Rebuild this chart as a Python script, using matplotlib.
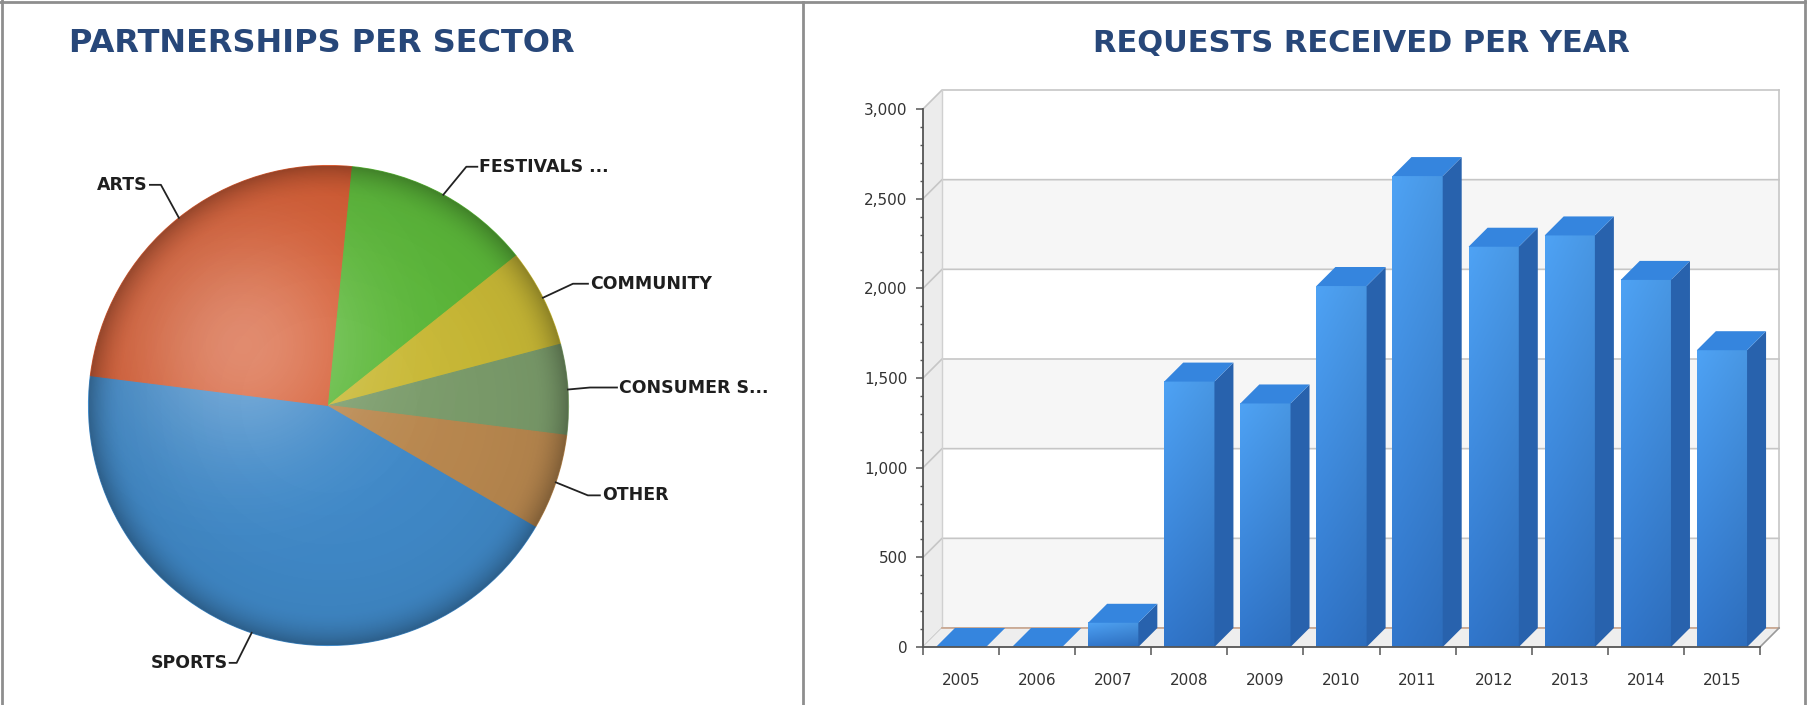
import numpy as np
import matplotlib
matplotlib.use('Agg')
import matplotlib.pyplot as plt
from matplotlib.patches import Polygon, Circle
from matplotlib.lines import Line2D
from matplotlib.colors import to_rgb

# ---- data ----
sectors = ['SPORTS', 'ARTS', 'FESTIVALS ...', 'COMMUNITY', 'CONSUMER S...', 'OTHER']
sector_share = [43.6, 24.6, 12.7, 6.6, 6.1, 6.4]
sector_colors = ['#4089c8', '#d65c33', '#5cb83a', '#c9b936', '#7b9c6b', '#b9884f']

years = ['2005', '2006', '2007', '2008', '2009', '2010',
         '2011', '2012', '2013', '2014', '2015']
requests = [0, 0, 135, 1480, 1358, 2013, 2626, 2232, 2295, 2047, 1655]

# leader layout: elbow offset (px, up positive) and horizontal run (px)
leaders = [(-15, -30, -7), (-18, 33, -11), (23, 28, 11),
           (30, 14, 15), (22, 2, 27), (32, -13, 12)]

W, H = 1808, 705
fig = plt.figure(figsize=(W / 100, H / 100), dpi=100)


def px_axes(left, top, right, bottom):
    return fig.add_axes([left / W, 1 - bottom / H, (right - left) / W, (bottom - top) / H])


title_color = '#274779'
fig.text(69 / W, 1 - 43 / H, 'PARTNERSHIPS PER SECTOR', fontsize=23,
         fontweight='heavy', color=title_color, ha='left', va='center')
fig.text(1361 / W, 1 - 43 / H, 'REQUESTS RECEIVED PER YEAR', fontsize=22,
         fontweight='heavy', color=title_color, ha='center', va='center')

# panel borders
for xs, ys in [([0, W], [2, 2]), ([2, 2], [0, H]), ([W - 3, W - 3], [0, H]),
               ([803, 803], [2, H])]:
    fig.add_artist(Line2D([x / W for x in xs], [1 - y / H for y in ys],
                          transform=fig.transFigure, color='#8e8e8e', lw=2))

# ---- pie ----
R_PX = 240
ax1 = px_axes(328.5 - R_PX, 405.5 - R_PX, 328.5 + R_PX, 405.5 + R_PX)
wedges, _ = ax1.pie(sector_share, colors=sector_colors, startangle=-30.2,
                    counterclock=False, radius=1)
for w in wedges:
    w.set_edgecolor(w.get_facecolor())
    w.set_linewidth(0.8)

n = 500
g = np.linspace(-1, 1, n)
X, Y = np.meshgrid(g, g)
R = np.hypot(X, Y)
clip = Circle((0, 0), 1, transform=ax1.transData)
light = np.ones((n, n, 4))
light[..., 3] = 0.3 * np.exp(-((X + 0.36) ** 2 + (Y - 0.25) ** 2) / (2 * 0.34 ** 2))
dark = np.zeros((n, n, 4))
dark[..., 3] = 0.22 * np.clip((R - 0.86) / 0.14, 0, 1) ** 2 + 0.08 * np.clip(R, 0, 1) ** 3
for img in (light, dark):
    im = ax1.imshow(img, extent=(-1, 1, -1, 1), origin='lower', zorder=3,
                    interpolation='bilinear')
    im.set_clip_path(clip)

for w, name, (ex, ey, hr) in zip(wedges, sectors, leaders):
    a = np.deg2rad((w.theta1 + w.theta2) / 2)
    x0, y0 = np.cos(a), np.sin(a)
    x1, y1 = x0 + ex / R_PX, y0 + ey / R_PX
    x2 = x1 + hr / R_PX
    ax1.plot([x0, x1, x2], [y0, y1, y1], color='#222222', lw=1.3,
             clip_on=False, zorder=4)
    side = 1 if hr > 0 else -1
    ax1.text(x2 + side * 2 / R_PX, y1, name, ha='left' if side > 0 else 'right',
             va='center', fontsize=12.5, fontweight='bold', color='#1e1e1e',
             clip_on=False)
ax1.set_xlim(-1, 1)
ax1.set_ylim(-1, 1)
ax1.axis('off')

# ---- 3d-ish bars ----
left, top, right, bottom = 923, 109, 1760, 647
ax2 = px_axes(left, top, right, bottom)
ncat = len(years)
ymax = 3000
dx = 19 * ncat / (right - left)
dy = 19 * ymax / (bottom - top)
x_lo, x_hi = -0.5, ncat - 0.5

# left side wall
ax2.add_patch(Polygon([(x_lo, 0), (x_lo + dx, dy), (x_lo + dx, ymax + dy), (x_lo, ymax)],
                      closed=True, fc='#ececec', ec='none', clip_on=False, zorder=0))
# back wall bands
for i, v in enumerate(range(0, ymax, 500)):
    fc = '#f6f6f6' if i % 2 == 0 else '#ffffff'
    ax2.add_patch(Polygon([(x_lo + dx, v + dy), (x_hi + dx, v + dy),
                           (x_hi + dx, v + 500 + dy), (x_lo + dx, v + 500 + dy)],
                          closed=True, fc=fc, ec='none', clip_on=False, zorder=0))
for v in range(0, ymax + 1, 500):
    ax2.plot([x_lo, x_lo + dx, x_hi + dx], [v, v + dy, v + dy], color='#c6c6c6',
             lw=1.2, clip_on=False, zorder=1)
ax2.plot([x_lo + dx, x_lo + dx], [dy, ymax + dy], color='#d0d0d0', lw=1, clip_on=False, zorder=1)
ax2.plot([x_hi + dx, x_hi + dx], [dy, ymax + dy], color='#c6c6c6', lw=1.2, clip_on=False, zorder=1)
# floor
ax2.add_patch(Polygon([(x_lo, 0), (x_hi, 0), (x_hi + dx, dy), (x_lo + dx, dy)],
                      closed=True, fc='#eeeeee', ec='none', clip_on=False, zorder=1))
ax2.plot([x_lo + dx, x_hi + dx], [dy, dy], color='#c9a48c', lw=1.2, clip_on=False, zorder=1.5)
ax2.plot([x_hi, x_hi + dx], [0, dy], color='#9a9a9a', lw=1.2, clip_on=False, zorder=1.5)

bw = 0.66
c_top, c_bot = np.array(to_rgb('#4ea2f4')), np.array(to_rgb('#3176cb'))
t = np.linspace(0, 1, 64)[:, None, None]
s = np.linspace(0, 1, 16)[None, :, None]
grad = (c_bot + (c_top - c_bot) * t) * (1 - 0.07 * s)
for i, v in enumerate(requests):
    l, r = i - bw / 2, i + bw / 2
    if v > 0:
        ax2.imshow(grad, extent=(l, r, 0, v), origin='lower', aspect='auto',
                   zorder=5, clip_on=False, interpolation='bilinear')
        ax2.add_patch(Polygon([(r, 0), (r + dx, dy), (r + dx, v + dy), (r, v)],
                              closed=True, fc='#2862ad', ec='none', clip_on=False, zorder=5))
    ax2.add_patch(Polygon([(l, v), (r, v), (r + dx, v + dy), (l + dx, v + dy)],
                          closed=True, fc='#3585de', ec='none', clip_on=False, zorder=5))

ax2.set_xlim(x_lo, x_hi)
ax2.set_ylim(0, ymax)
ax2.patch.set_visible(False)
for sp in ('top', 'right'):
    ax2.spines[sp].set_visible(False)
for sp in ('left', 'bottom'):
    ax2.spines[sp].set_color('#555555')
    ax2.spines[sp].set_linewidth(1.3)
    ax2.spines[sp].set_zorder(6)

ax2.set_yticks(range(0, ymax + 1, 500), [f'{v:,}' for v in range(0, ymax + 1, 500)])
ax2.set_yticks(range(0, ymax + 1, 100), minor=True)
ax2.tick_params(axis='y', which='major', length=5, width=1.1, color='#555555',
                labelsize=11, labelcolor='#333333', pad=6)
ax2.tick_params(axis='y', which='minor', length=2.5, width=1, color='#555555')
ax2.set_xticks(np.arange(ncat + 1) - 0.5, [''] * (ncat + 1))
ax2.set_xticks(np.arange(ncat), years, minor=True)
ax2.tick_params(axis='x', which='major', length=6, width=1.1, color='#555555')
ax2.tick_params(axis='x', which='minor', length=0, pad=19, labelsize=11,
                labelcolor='#333333')

fig.savefig('out.png', dpi=100)
